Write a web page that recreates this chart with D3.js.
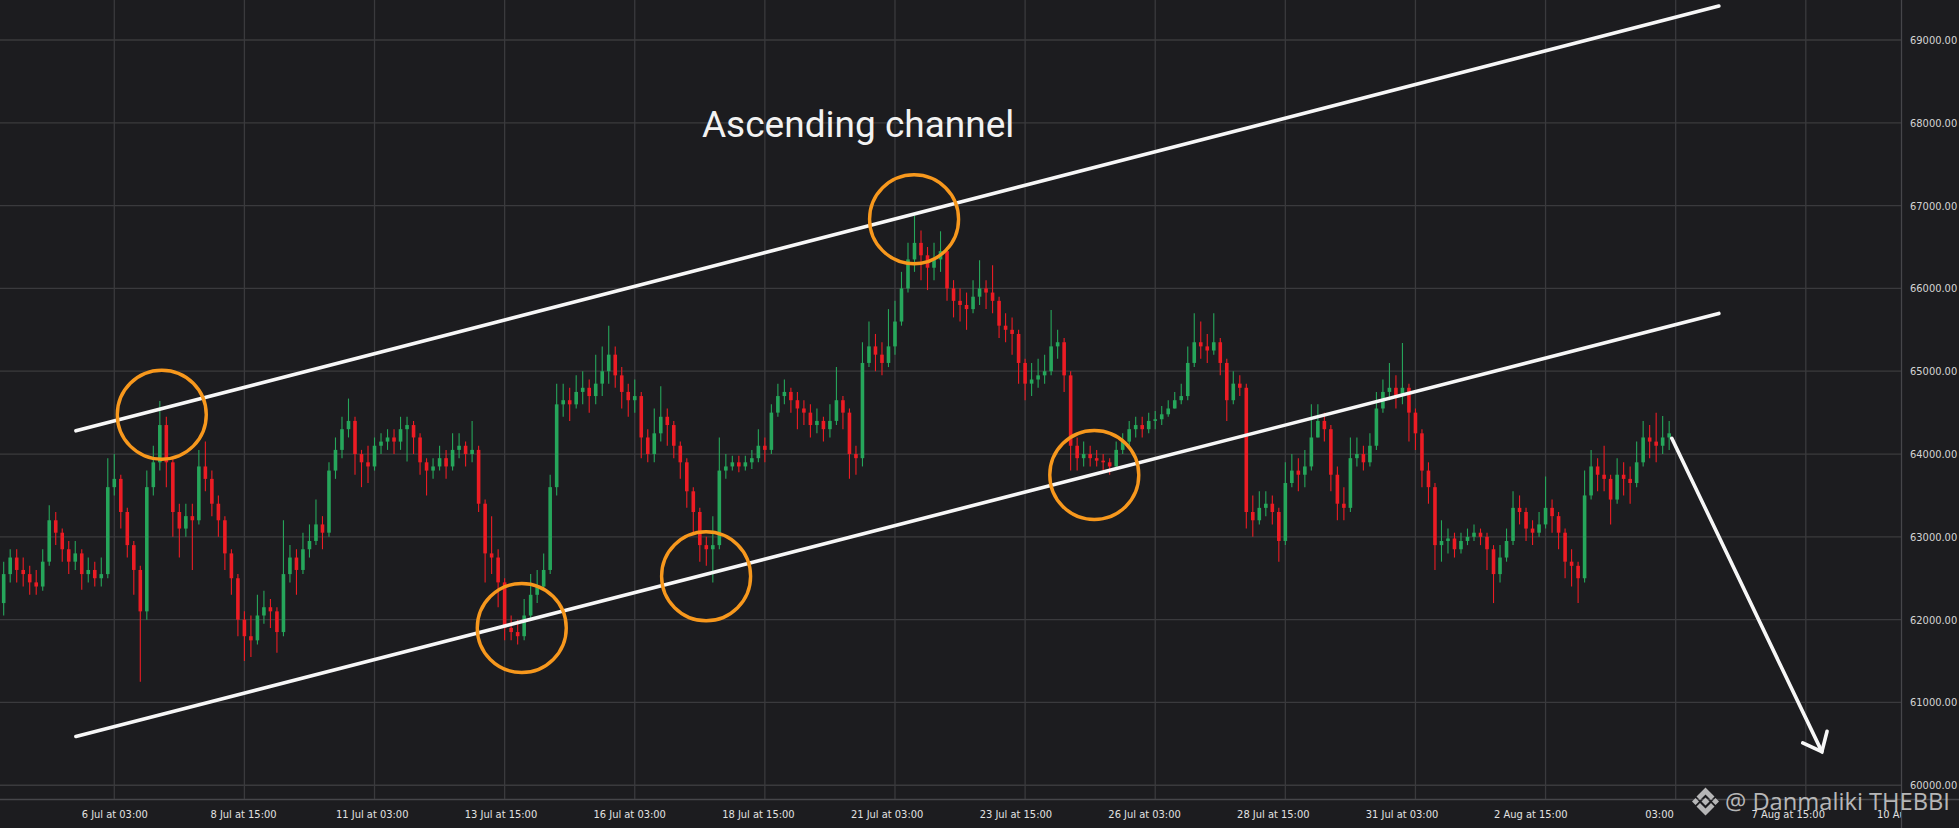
<!DOCTYPE html>
<html>
<head>
<meta charset="utf-8">
<title>Ascending channel</title>
<script src="https://cdnjs.cloudflare.com/ajax/libs/d3/7.8.5/d3.min.js"></script>
<style>
    html, body { margin: 0; padding: 0; background: #1c1c1f; overflow: hidden; }
    svg { display: block; }
</style>
</head>
<body>
<div id="chart"></div>
<script>
// 3-hour candles from 4 Jul 2024 00:00 UTC, prices in thousands (open = previous close)
const candleStart = Date.UTC(2024, 6, 4, 0);
const candleHours = 3;
const firstOpen = 62.20;

const closes = [
    62.55,62.75,62.60,62.55,62.45,62.40,62.70,63.20,63.05,62.85,
    62.70,62.80,62.55,62.60,62.50,62.55,63.60,63.70,63.30,62.90,
    62.60,62.10,63.60,63.90,64.35,63.90,63.30,63.10,63.25,63.20,
    63.85,63.70,63.40,63.20,62.80,62.50,62.00,61.80,61.75,62.05,
    62.15,62.10,61.85,62.55,62.75,62.60,62.85,62.95,63.15,63.05,
    63.80,64.05,64.30,64.40,64.00,63.90,63.85,64.10,64.15,64.20,
    64.15,64.30,64.35,64.20,63.90,63.80,63.85,63.95,63.85,64.05,
    64.10,64.00,64.05,63.40,62.80,62.75,62.45,61.90,61.85,61.80,
    62.05,62.30,62.40,62.60,63.60,64.60,64.65,64.60,64.75,64.80,
    64.70,64.85,65.00,65.20,64.95,64.75,64.65,64.70,64.20,64.00,
    64.25,64.45,64.35,64.10,63.90,63.55,63.30,62.90,62.85,62.90,
    63.80,63.85,63.90,63.85,63.90,63.95,64.10,64.05,64.50,64.70,
    64.75,64.65,64.55,64.50,64.35,64.40,64.30,64.40,64.65,64.50,
    64.00,63.95,65.10,65.30,65.20,65.10,65.30,65.60,66.00,66.35,
    66.55,66.40,66.25,66.35,66.45,66.00,65.85,65.80,65.75,65.90,
    66.00,65.95,65.85,65.55,65.50,65.45,65.10,64.85,64.90,64.95,
    65.00,65.30,65.35,64.95,64.10,63.95,64.00,63.95,63.92,63.90,
    63.85,64.05,64.15,64.30,64.35,64.30,64.40,64.42,64.48,64.55,
    64.65,64.70,65.10,65.35,65.30,65.25,65.35,65.10,64.65,64.85,
    64.80,63.30,63.20,63.35,63.40,63.30,62.95,63.65,63.80,63.75,
    63.85,64.20,64.40,64.30,63.75,63.40,63.35,63.95,64.00,63.90,
    64.10,64.55,64.75,64.80,64.70,64.80,64.50,64.25,63.80,63.60,
    62.90,62.95,62.98,62.85,62.95,63.00,63.05,63.00,62.85,62.55,
    62.75,62.95,63.35,63.30,63.10,63.05,63.15,63.35,63.25,63.05,
    62.70,62.65,62.50,63.50,63.85,63.75,63.70,63.45,63.75,63.70,
    63.65,63.90,64.20,64.15,64.10,64.20,64.25
];

const highs = [
    62.70,62.85,62.85,62.75,62.65,62.60,62.85,63.38,63.30,63.10,
    62.95,62.95,62.85,62.75,62.70,62.75,63.95,64.00,63.75,63.35,
    62.95,62.65,63.80,64.10,64.64,64.45,63.95,63.40,63.40,63.40,
    64.05,64.15,63.80,63.50,63.25,62.85,62.55,62.10,62.05,62.30,
    62.35,62.25,62.15,63.20,62.90,62.85,63.05,63.15,63.45,63.25,
    63.90,64.20,64.45,64.67,64.45,64.05,64.10,64.20,64.25,64.30,
    64.30,64.45,64.45,64.40,64.25,63.95,63.95,64.10,64.05,64.25,
    64.25,64.15,64.40,64.10,63.45,63.25,62.85,62.50,62.05,62.00,
    62.25,62.55,62.60,62.80,63.75,64.85,64.85,64.80,64.95,65.00,
    64.90,65.20,65.30,65.55,65.30,65.05,64.85,64.90,64.75,64.30,
    64.55,64.82,64.55,64.40,64.15,63.95,63.60,63.35,63.00,63.25,
    64.20,64.00,63.98,63.98,63.98,64.05,64.30,64.20,64.60,64.85,
    64.90,64.80,64.75,64.65,64.60,64.55,64.45,64.60,65.05,64.70,
    64.55,64.10,65.35,65.60,65.45,65.35,65.75,65.85,66.20,66.55,
    66.88,66.70,66.50,66.55,66.69,66.50,66.10,66.00,65.95,66.10,
    66.34,66.10,66.28,65.90,65.70,65.65,65.50,65.15,65.10,65.15,
    65.20,65.74,65.50,65.40,65.00,64.20,64.15,64.10,64.05,64.00,
    63.95,64.15,64.25,64.40,64.45,64.45,64.50,64.52,64.58,64.65,
    64.75,64.85,65.30,65.70,65.60,65.45,65.70,65.40,65.15,65.00,
    64.95,64.85,63.50,63.55,63.55,63.50,63.35,63.90,64.00,63.95,
    64.05,64.60,64.60,64.50,64.35,63.85,63.60,64.20,64.20,64.10,
    64.25,64.75,64.90,65.10,64.95,65.34,64.85,64.55,64.30,63.90,
    63.65,63.20,63.10,63.05,63.05,63.10,63.15,63.10,63.05,62.90,
    62.90,63.10,63.55,63.50,63.35,63.20,63.30,63.73,63.45,63.30,
    63.10,62.85,62.70,63.80,64.05,63.95,64.10,63.75,63.95,63.90,
    63.85,64.15,64.40,64.35,64.50,64.46,64.40
];

const lows = [
    62.05,62.45,62.45,62.40,62.30,62.30,62.35,62.65,62.90,62.70,
    62.55,62.60,62.36,62.45,62.40,62.40,62.50,63.50,63.10,62.75,
    62.30,61.25,62.00,63.50,63.80,63.60,63.00,62.75,63.00,62.60,
    63.15,63.55,63.25,63.00,62.60,62.30,61.80,61.50,61.55,61.70,
    61.95,61.90,61.60,61.80,62.45,62.30,62.55,62.75,62.90,62.85,
    63.00,63.70,63.95,64.20,63.75,63.60,63.65,63.80,64.00,64.05,
    64.00,64.05,63.91,64.00,63.75,63.50,63.70,63.80,63.70,63.80,
    63.95,63.85,63.90,63.30,62.45,62.55,62.15,61.75,61.75,61.70,
    61.75,62.00,62.20,62.35,62.55,63.50,64.45,64.40,64.55,64.60,
    64.50,64.60,64.70,64.85,64.80,64.55,64.45,64.50,63.95,63.90,
    63.90,64.15,64.10,63.95,63.70,63.35,63.05,62.70,62.65,62.45,
    62.85,63.70,63.80,63.78,63.80,63.82,63.90,63.90,64.00,64.45,
    64.60,64.50,64.30,64.35,64.20,64.25,64.15,64.20,64.35,64.30,
    63.70,63.75,63.85,65.05,65.00,64.95,65.05,65.20,65.55,65.95,
    66.20,66.10,65.98,66.10,66.20,65.85,65.65,65.60,65.50,65.70,
    65.80,65.75,65.70,65.40,65.35,65.20,64.85,64.65,64.70,64.80,
    64.85,64.95,65.15,64.75,63.80,63.80,63.85,63.85,63.85,63.80,
    63.75,63.82,64.00,64.10,64.20,64.20,64.25,64.30,64.35,64.45,
    64.55,64.60,64.65,65.05,65.15,65.10,65.20,64.95,64.40,64.60,
    64.70,63.10,63.00,63.15,63.25,63.15,62.70,62.90,63.60,63.55,
    63.60,63.80,64.20,64.15,63.55,63.20,63.20,63.30,63.85,63.80,
    63.85,64.05,64.50,64.65,64.55,64.60,64.15,64.05,63.60,63.40,
    62.60,62.70,62.80,62.75,62.80,62.90,62.95,62.90,62.60,62.20,
    62.45,62.70,62.90,63.15,62.95,62.90,63.00,63.10,63.05,62.85,
    62.50,62.40,62.20,62.45,63.45,63.55,63.55,63.15,63.40,63.50,
    63.40,63.60,63.85,63.95,63.90,64.00,64.05
];

// axis ticks
const yTicks = [60000, 61000, 62000, 63000, 64000, 65000, 66000, 67000, 68000, 69000];
const xTickTimes = ['2024-07-06T03:00Z', '2024-07-08T15:00Z', '2024-07-11T03:00Z', '2024-07-13T15:00Z',
    '2024-07-16T03:00Z', '2024-07-18T15:00Z', '2024-07-21T03:00Z', '2024-07-23T15:00Z',
    '2024-07-26T03:00Z', '2024-07-28T15:00Z', '2024-07-31T03:00Z', '2024-08-02T15:00Z',
    '2024-08-05T03:00Z', '2024-08-07T15:00Z', '2024-08-10T03:00Z'];
const xTickLabels = ['6 Jul at 03:00', '8 Jul at 15:00', '11 Jul at 03:00', '13 Jul at 15:00',
    '16 Jul at 03:00', '18 Jul at 15:00', '21 Jul at 03:00', '23 Jul at 15:00',
    '26 Jul at 03:00', '28 Jul at 15:00', '31 Jul at 03:00', '2 Aug at 15:00',
    '03:00', '7 Aug at 15:00', '10 Aug at 03:00'];

// drawn annotations (time, price)
const channelUpper = [['2024-07-05T09:18Z', 64280], ['2024-08-05T22:54Z', 69411]];
const channelLower = [['2024-07-05T09:18Z', 60589], ['2024-08-05T22:54Z', 65698]];
const touchPoints = [
    ['2024-07-07T00:54Z', 64475],
    ['2024-07-13T22:54Z', 61899],
    ['2024-07-17T11:54Z', 62524],
    ['2024-07-21T11:48Z', 66836],
    ['2024-07-24T22:54Z', 63747]
];
const arrowPath = [['2024-08-05T01:12Z', 64190], ['2024-08-07T22:24Z', 60406]];
const titleText = 'Ascending channel';
const titlePos = ['2024-07-20T10:00Z', 67832];
const watermark = '@ Danmaliki THEBBI';

const width = 1959, height = 828;
const plotRight = 1901, plotBottom = 800;
const hour = 3600 * 1000;
const anchor = Date.UTC(2024, 6, 6, 3);

const svg = d3.select('#chart')
    .append('svg')
    .attr('width', width)
    .attr('height', height);

svg.append('rect').attr('width', width).attr('height', height).attr('fill', '#1c1c1f');

const x = d3.scaleUtc()
    .domain([new Date(anchor - 52.7 * hour), new Date(anchor + 823.9 * hour)])
    .range([0, plotRight]);

const y = d3.scaleLinear()
    .domain([59822, 69483])
    .range([plotBottom, 0]);

const tickDates = xTickTimes.map(d => new Date(d));

svg.append('clipPath').attr('id', 'plotClip')
    .append('rect').attr('width', plotRight).attr('height', plotBottom);
svg.append('clipPath').attr('id', 'xAxisClip')
    .append('rect').attr('width', plotRight).attr('height', height);

const plot = svg.append('g').attr('clip-path', 'url(#plotClip)');

// grid
plot.append('g')
    .selectAll('line')
    .data(yTicks)
    .join('line')
    .attr('x1', 0).attr('x2', plotRight)
    .attr('y1', d => y(d)).attr('y2', d => y(d))
    .attr('stroke', '#3a3a3d').attr('stroke-width', 1.3);

plot.append('g')
    .selectAll('line')
    .data(tickDates)
    .join('line')
    .attr('x1', d => x(d)).attr('x2', d => x(d))
    .attr('y1', 0).attr('y2', plotBottom)
    .attr('stroke', '#3a3a3d').attr('stroke-width', 1.3);

// candles
const candles = closes.map((c, i) => {
    const open = i === 0 ? firstOpen : closes[i - 1];
    return {
        time: new Date(candleStart + i * candleHours * hour),
        open: open * 1000,
        close: c * 1000,
        high: Math.max(highs[i], open, c) * 1000,
        low: Math.min(lows[i], open, c) * 1000
    };
});

const bodyW = 3.6;
const candleG = plot.append('g');
const color = d => d.close >= d.open ? '#26a65b' : '#ec1c24';

candleG.selectAll('line')
    .data(candles)
    .join('line')
    .attr('x1', d => x(d.time)).attr('x2', d => x(d.time))
    .attr('y1', d => y(d.high)).attr('y2', d => y(d.low))
    .attr('stroke', color)
    .attr('stroke-width', 1.1);

candleG.selectAll('rect')
    .data(candles)
    .join('rect')
    .attr('x', d => x(d.time) - bodyW / 2)
    .attr('width', bodyW)
    .attr('y', d => y(Math.max(d.open, d.close)))
    .attr('height', d => Math.max(1, Math.abs(y(d.open) - y(d.close))))
    .attr('fill', color);

// channel lines
const lineGen = d3.line().x(d => x(new Date(d[0]))).y(d => y(d[1]));
[channelUpper, channelLower].forEach(seg => {
    plot.append('path')
        .attr('d', lineGen(seg))
        .attr('fill', 'none')
        .attr('stroke', '#f7f7f7')
        .attr('stroke-width', 3.6)
        .attr('stroke-linecap', 'round');
});

// touch circles
plot.append('g')
    .selectAll('circle')
    .data(touchPoints)
    .join('circle')
    .attr('cx', d => x(new Date(d[0])))
    .attr('cy', d => y(d[1]))
    .attr('r', 44.5)
    .attr('fill', 'none')
    .attr('stroke', '#f7981d')
    .attr('stroke-width', 3.4);

// arrow
const ax0 = x(new Date(arrowPath[0][0])), ay0 = y(arrowPath[0][1]);
const ax1 = x(new Date(arrowPath[1][0])), ay1 = y(arrowPath[1][1]);
const ang = Math.atan2(ay1 - ay0, ax1 - ax0);
const headLen = 21, headAng = 40 * Math.PI / 180;
const arrowG = plot.append('g')
    .attr('stroke', '#f7f7f7')
    .attr('stroke-width', 3.6)
    .attr('stroke-linecap', 'round')
    .attr('fill', 'none');
arrowG.append('path').attr('d', lineGen(arrowPath));
arrowG.append('path').attr('d', d3.line()([
    [ax1 - headLen * Math.cos(ang - headAng), ay1 - headLen * Math.sin(ang - headAng)],
    [ax1, ay1],
    [ax1 - headLen * Math.cos(ang + headAng), ay1 - headLen * Math.sin(ang + headAng)]
]));

// title
plot.append('text')
    .attr('x', x(new Date(titlePos[0])))
    .attr('y', y(titlePos[1]))
    .attr('text-anchor', 'middle')
    .style('font-family', 'Roboto, sans-serif')
    .style('font-size', '37px')
    .attr('fill', '#f2f2f2')
    .text(titleText);

// panel borders
svg.append('line')
    .attr('x1', plotRight + 0.5).attr('x2', plotRight + 0.5)
    .attr('y1', 0).attr('y2', height)
    .attr('stroke', '#46464a').attr('stroke-width', 1.3);
svg.append('line')
    .attr('x1', 0).attr('x2', width)
    .attr('y1', plotBottom - 0.5).attr('y2', plotBottom - 0.5)
    .attr('stroke', '#46464a').attr('stroke-width', 1.3);

const axisFont = '"Liberation Sans Narrow", "DejaVu Sans Condensed", "Roboto Condensed", Roboto, sans-serif';

// y axis
svg.append('g')
    .attr('transform', `translate(${plotRight},0)`)
    .call(d3.axisRight(y).tickValues(yTicks).tickSize(0).tickPadding(9).tickFormat(d3.format('.2f')))
    .call(g => g.select('.domain').remove())
    .call(g => g.selectAll('text')
        .attr('fill', '#d4d4d4')
        .style('font-family', axisFont)
        .style('font-size', '11px'));

// x axis
svg.append('g')
    .attr('clip-path', 'url(#xAxisClip)')
    .append('g')
    .attr('transform', `translate(0,${plotBottom})`)
    .call(d3.axisBottom(x).tickValues(tickDates).tickSize(0).tickPadding(10)
        .tickFormat((d, i) => xTickLabels[i]))
    .call(g => g.select('.domain').remove())
    .call(g => g.selectAll('text')
        .attr('dx', d => -(x(d) - x(new Date(anchor))) * 0.0107)
        .attr('fill', '#e2e2e2')
        .style('font-family', axisFont)
        .style('font-size', '11px'));

// watermark
const wm = svg.append('g').attr('opacity', 0.85).attr('fill', '#d2d2d2');
const logo = wm.append('g').attr('transform', 'translate(1705.5,801.5)');
const logoShapes = [
    [[0, -4], [4, 0], [0, 4], [-4, 0]],
    [[-10, -3.5], [-6.5, 0], [-10, 3.5], [-13.5, 0]],
    [[10, -3.5], [13.5, 0], [10, 3.5], [6.5, 0]],
    [[0, -14], [9, -5], [5.5, -1.5], [0, -7], [-5.5, -1.5], [-9, -5]],
    [[0, 14], [9, 5], [5.5, 1.5], [0, 7], [-5.5, 1.5], [-9, 5]]
];
logo.selectAll('path')
    .data(logoShapes)
    .join('path')
    .attr('d', d => d3.line()(d) + 'Z');
wm.append('text')
    .attr('x', 1725)
    .attr('y', 810)
    .attr('textLength', 225)
    .attr('lengthAdjust', 'spacingAndGlyphs')
    .style('font-family', '"Open Sans", "Noto Sans", sans-serif')
    .style('font-size', '24px')
    .text(watermark);
</script>
</body>
</html>
